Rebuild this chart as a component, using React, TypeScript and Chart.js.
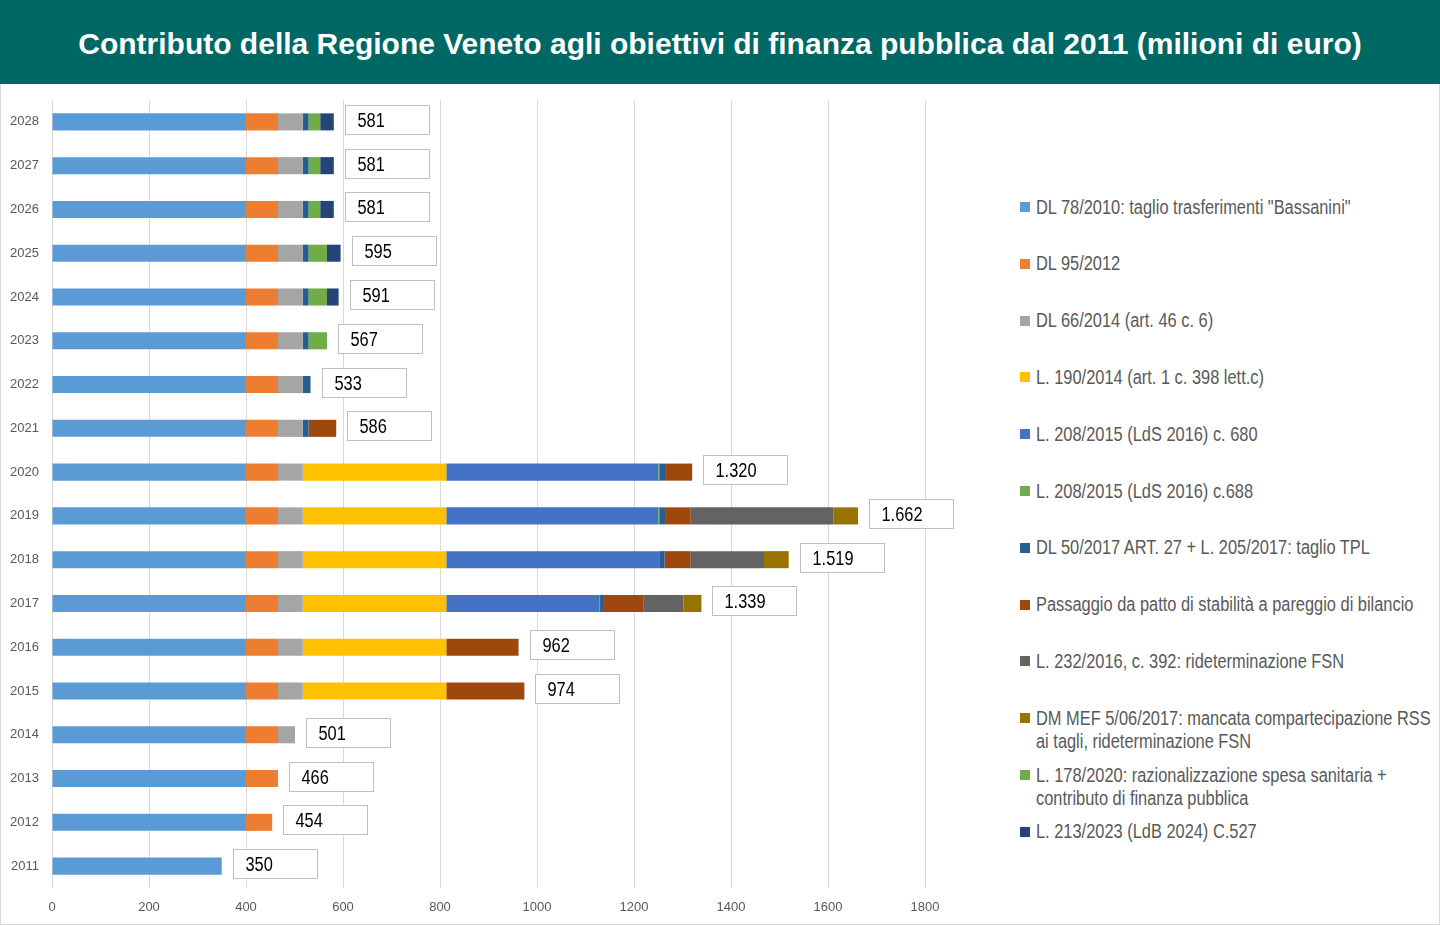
import React, { useEffect, useRef } from "react";
import { Chart, registerables } from "chart.js";

Chart.register(...registerables);

const TITLE = "Contributo della Regione Veneto agli obiettivi di finanza pubblica dal 2011 (milioni di euro)";

const years = ["2011","2012","2013","2014","2015","2016","2017","2018","2019","2020","2021","2022","2023","2024","2025","2026","2027","2028"];

const bassanini = [350,400,400,400,400,400,400,400,400,400,400,400,400,400,400,400,400,400];
const dl95 =      [0,54,66,66,66,66,66,66,66,66,66,66,66,66,66,66,66,66];
const dl66 =      [0,0,0,35,51,51,51,51,51,51,51,51,51,51,51,51,51,51];
const l190 =      [0,0,0,0,296,296,296,296,296,296,0,0,0,0,0,0,0,0];
const c680 =      [0,0,0,0,0,0,315,439,437,437,0,0,0,0,0,0,0,0];
const c688 =      [0,0,0,0,0,0,2,0,2,2,0,0,0,0,0,0,0,0];
const tpl =       [0,0,0,0,0,0,8,11,12,12,12,16,12,12,12,12,12,12];
const passaggio = [0,0,0,0,161,149,81,53,53,56,57,0,0,0,0,0,0,0];
const l232 =      [0,0,0,0,0,0,83,152,294,0,0,0,0,0,0,0,0,0];
const dmMef =     [0,0,0,0,0,0,37,51,51,0,0,0,0,0,0,0,0,0];
const l178 =      [0,0,0,0,0,0,0,0,0,0,0,0,38,38,38,24,24,24];
const l213 =      [0,0,0,0,0,0,0,0,0,0,0,0,0,24,28,28,28,28];

const xTicks = [0,200,400,600,800,1000,1200,1400,1600,1800];

const series = [
  { lines: ["DL 78/2010: taglio trasferimenti \"Bassanini\""], data: bassanini, color: "#5B9BD5" },
  { lines: ["DL 95/2012"], data: dl95, color: "#ED7D31" },
  { lines: ["DL 66/2014 (art. 46 c. 6)"], data: dl66, color: "#A5A5A5" },
  { lines: ["L. 190/2014 (art. 1 c. 398 lett.c)"], data: l190, color: "#FFC000" },
  { lines: ["L. 208/2015 (LdS 2016) c. 680"], data: c680, color: "#4472C4" },
  { lines: ["L. 208/2015 (LdS 2016) c.688"], data: c688, color: "#70AD47" },
  { lines: ["DL 50/2017 ART. 27 + L. 205/2017: taglio TPL"], data: tpl, color: "#255E91" },
  { lines: ["Passaggio da patto di stabilità a pareggio di bilancio"], data: passaggio, color: "#9E480E" },
  { lines: ["L. 232/2016, c. 392: rideterminazione FSN"], data: l232, color: "#636363" },
  { lines: ["DM MEF 5/06/2017: mancata compartecipazione RSS", "ai tagli, rideterminazione FSN"], data: dmMef, color: "#997300" },
  { lines: ["L. 178/2020: razionalizzazione spesa sanitaria +", "contributo di finanza pubblica"], data: l178, color: "#70AD47" },
  { lines: ["L. 213/2023 (LdB 2024) C.527"], data: l213, color: "#264478" },
];

const SANS = '"Liberation Sans", Arial, sans-serif';
const SQUEEZE = 0.82;

function fmt(n: number): string {
  if (n >= 1000) {
    const t = Math.floor(n / 1000);
    const r = String(n % 1000).padStart(3, "0");
    return t + "." + r;
  }
  return String(n);
}

const totalsPlugin = {
  id: "totals",
  afterDatasetsDraw(chart: any) {
    const ctx = chart.ctx;
    const xs = chart.scales.x;
    const meta = chart.getDatasetMeta(0);
    years.forEach((_, i) => {
      let sum = 0;
      chart.data.datasets.forEach((ds: any) => { sum += ds.data[i] || 0; });
      const x = xs.getPixelForValue(sum);
      const y = meta.data[i].y;
      const bx = Math.round(x + 11) + 0.5;
      const by = Math.round(y - 17) + 0.5;
      ctx.save();
      ctx.fillStyle = "#ffffff";
      ctx.fillRect(bx, by, 84, 29);
      ctx.strokeStyle = "#BFBFBF";
      ctx.lineWidth = 1;
      ctx.strokeRect(bx, by, 84, 29);
      ctx.translate(bx + 12, by + 16);
      ctx.scale(SQUEEZE, 1);
      ctx.fillStyle = "#000000";
      ctx.font = `20px ${SANS}`;
      ctx.textAlign = "left";
      ctx.textBaseline = "middle";
      ctx.fillText(fmt(sum), 0, 0);
      ctx.restore();
    });
  },
};

function ChartCanvas() {
  const ref = useRef<HTMLCanvasElement | null>(null);
  useEffect(() => {
    if (!ref.current) return;
    const chart = new Chart(ref.current, {
      type: "bar",
      data: {
        labels: years,
        datasets: series.map((s) => ({
          label: s.lines.join(" "),
          data: s.data,
          backgroundColor: s.color,
          borderWidth: 0,
          barPercentage: 0.39,
          categoryPercentage: 1,
        })),
      },
      options: {
        indexAxis: "y",
        responsive: false,
        maintainAspectRatio: false,
        animation: false,
        layout: { padding: { left: 0, right: 75, top: 16, bottom: 0 } },
        plugins: {
          legend: { display: false },
          tooltip: { enabled: false },
          title: { display: false },
        },
        scales: {
          x: {
            stacked: true,
            min: 0,
            max: 1800,
            afterBuildTicks: (scale: any) => { scale.ticks = xTicks.map((v) => ({ value: v })); },
            ticks: { color: "#595959", font: { family: SANS, size: 13 }, padding: 12, callback: (v: any) => String(v) },
            grid: { color: "#D9D9D9", drawTicks: false, lineWidth: 1 },
            border: { display: false },
            afterFit: (scale: any) => { scale.height = 38; scale.paddingLeft = 0; scale.paddingRight = 0; },
          },
          y: {
            stacked: true,
            reverse: true,
            grid: { display: false, drawTicks: false },
            border: { display: false },
            ticks: { color: "#595959", font: { family: SANS, size: 13 }, padding: 13 },
            afterFit: (scale: any) => { scale.width = 52; scale.paddingTop = 0; scale.paddingBottom = 0; },
          },
        },
      } as any,
      plugins: [totalsPlugin],
    });
    return () => chart.destroy();
  }, []);
  return <canvas ref={ref} width={1000} height={842} style={{ position: "absolute", left: 0, top: 84, width: 1000, height: 842 }} />;
}

export default function App() {
  return (
    <div style={{ position: "fixed", left: 0, top: 0, width: 1440, height: 926, background: "#fff", overflow: "hidden" }}>
      <div style={{ position: "absolute", left: 0, top: 0, width: 1440, height: 84, background: "#006864", color: "#fff", display: "flex", alignItems: "center", justifyContent: "center", fontFamily: SANS, fontWeight: 700, fontSize: 30, whiteSpace: "nowrap", paddingTop: 4, boxSizing: "border-box" }}>
        {TITLE}
      </div>
      <div style={{ position: "absolute", left: 0, top: 84, width: 1438, height: 840, border: "1px solid #D9D9D9", borderTop: "none" }} />
      <ChartCanvas />
      {series.map((s, i) => {
        const cy = 207 + 56.8 * i;
        return (
          <div key={i} style={{ position: "absolute", left: 1020, top: cy - 11.5, fontFamily: SANS, fontSize: 20, lineHeight: "23px", color: "#595959", whiteSpace: "nowrap" }}>
            <div style={{ position: "absolute", left: 0, top: 6.5, width: 10, height: 10, background: s.color }} />
            <div style={{ position: "absolute", left: 16, top: 0, transform: `scaleX(${SQUEEZE})`, transformOrigin: "0 0" }}>
              {s.lines.map((l, k) => <div key={k}>{l}</div>)}
            </div>
          </div>
        );
      })}
    </div>
  );
}
